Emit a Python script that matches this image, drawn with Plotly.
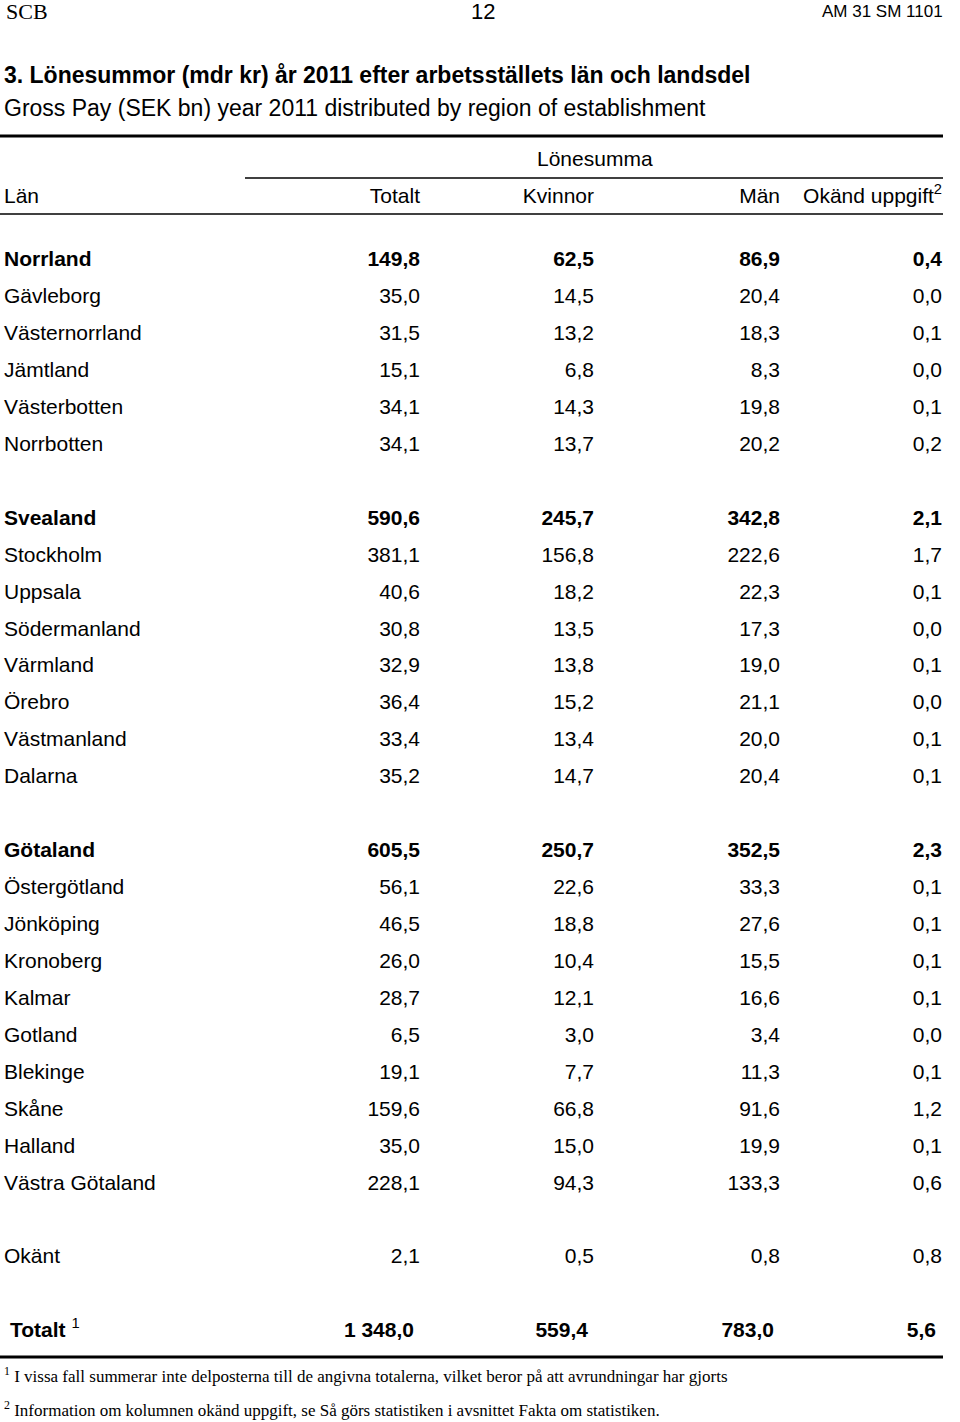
import plotly.graph_objects as go

# ---- data ----
regions = ["Norrland", "Gävleborg", "Västernorrland", "Jämtland", "Västerbotten", "Norrbotten",
           "", "Svealand", "Stockholm", "Uppsala", "Södermanland", "Värmland", "Örebro",
           "Västmanland", "Dalarna", "", "Götaland", "Östergötland", "Jönköping", "Kronoberg",
           "Kalmar", "Gotland", "Blekinge", "Skåne", "Halland", "Västra Götaland", "", "Okänt"]
totalt = ["149,8", "35,0", "31,5", "15,1", "34,1", "34,1", "",
          "590,6", "381,1", "40,6", "30,8", "32,9", "36,4", "33,4", "35,2", "",
          "605,5", "56,1", "46,5", "26,0", "28,7", "6,5", "19,1", "159,6", "35,0", "228,1", "", "2,1"]
kvinnor = ["62,5", "14,5", "13,2", "6,8", "14,3", "13,7", "",
           "245,7", "156,8", "18,2", "13,5", "13,8", "15,2", "13,4", "14,7", "",
           "250,7", "22,6", "18,8", "10,4", "12,1", "3,0", "7,7", "66,8", "15,0", "94,3", "", "0,5"]
man = ["86,9", "20,4", "18,3", "8,3", "19,8", "20,2", "",
       "342,8", "222,6", "22,3", "17,3", "19,0", "21,1", "20,0", "20,4", "",
       "352,5", "33,3", "27,6", "15,5", "16,6", "3,4", "11,3", "91,6", "19,9", "133,3", "", "0,8"]
okand = ["0,4", "0,0", "0,1", "0,0", "0,1", "0,2", "",
         "2,1", "1,7", "0,1", "0,0", "0,1", "0,0", "0,1", "0,1", "",
         "2,3", "0,1", "0,1", "0,1", "0,1", "0,0", "0,1", "1,2", "0,1", "0,6", "", "0,8"]
bold_rows = {"Norrland", "Svealand", "Götaland"}
total_label = "Totalt"
total_values = ["1 348,0", "559,4", "783,0", "5,6"]
col_headers = ["Totalt", "Kvinnor", "Män", "Okänd uppgift<sup>2</sup>"]

# ---- layout constants ----
W, H = 960, 1422
ROW0, STEP = 261, 36.93
col_right = [420, 594, 780, 942]
FONT = "Liberation Sans, Arial, sans-serif"
SERIF = "Liberation Serif, Times New Roman, serif"
FS = 21

def b(s, row_label):
    return f"<b>{s}</b>" if row_label in bold_rows else s

idx = [i for i, r in enumerate(regions) if r]
row_y = [ROW0 + i * STEP for i in idx]
total_y = ROW0 + (len(regions) + 1) * STEP
noskip = dict(hoverinfo="skip", showlegend=False, mode="text")

fig = go.Figure()
fig.add_trace(go.Scatter(
    x=[4] * len(idx), y=row_y, text=[b(regions[i], regions[i]) for i in idx],
    textposition="middle right", textfont=dict(family=FONT, size=FS, color="black"), **noskip))
for xr, col in zip(col_right, [totalt, kvinnor, man, okand]):
    fig.add_trace(go.Scatter(
        x=[xr] * len(idx), y=row_y, text=[b(col[i], regions[i]) for i in idx],
        textposition="middle left", textfont=dict(family=FONT, size=FS, color="black"), **noskip))
fig.add_trace(go.Scatter(
    x=[10], y=[total_y], text=[f"<b>{total_label}</b> <sup>1</sup>"],
    textposition="middle right", textfont=dict(family=FONT, size=FS, color="black"), **noskip))
fig.add_trace(go.Scatter(
    x=[c - 6 for c in col_right], y=[total_y] * 4, text=[f"<b>{v}</b>" for v in total_values],
    textposition="middle left", textfont=dict(family=FONT, size=FS, color="black"), **noskip))
fig.add_trace(go.Scatter(
    x=[4], y=[198], text=["Län"], textposition="middle right",
    textfont=dict(family=FONT, size=FS, color="black"), **noskip))
fig.add_trace(go.Scatter(
    x=col_right, y=[198] * 4, text=col_headers, textposition="middle left",
    textfont=dict(family=FONT, size=FS, color="black"), **noskip))

ann = []
def A(x, y, t, size, family=FONT, xanchor="left"):
    ann.append(dict(x=x, y=y, xref="x", yref="y", text=t, showarrow=False,
                    xanchor=xanchor, yanchor="middle", font=dict(family=family, size=size, color="black")))

A(4, 11, "SCB", 22, SERIF)
A(483, 11, "12", 22, FONT, "center")
A(945, 11, "AM 31 SM 1101", 17, FONT, "right")
A(2, 75, "<b>3. Lönesummor (mdr kr) år 2011 efter arbetsställets län och landsdel</b>", 23)
A(2, 108, "Gross Pay (SEK bn) year 2011 distributed by region of establishment", 23)
A(595, 158, "Lönesumma", FS, FONT, "center")
A(2, 1375, "<sup>1</sup> I vissa fall summerar inte delposterna till de angivna totalerna, vilket beror på att avrundningar har gjorts", 17, SERIF)
A(2, 1409, "<sup>2</sup> Information om kolumnen okänd uppgift, se Så görs statistiken i avsnittet Fakta om statistiken.", 17, SERIF)

shapes = [
    dict(type="line", xref="x", yref="y", x0=0, x1=943, y0=136, y1=136, line=dict(color="black", width=3)),
    dict(type="line", xref="x", yref="y", x0=245, x1=943, y0=178, y1=178, line=dict(color="black", width=1.3)),
    dict(type="line", xref="x", yref="y", x0=0, x1=943, y0=214, y1=214, line=dict(color="black", width=1.5)),
    dict(type="line", xref="x", yref="y", x0=0, x1=943, y0=1357, y1=1357, line=dict(color="black", width=3)),
]

fig.update_layout(
    width=W, height=H, margin=dict(l=0, r=0, t=0, b=0),
    paper_bgcolor="white", plot_bgcolor="white",
    xaxis=dict(range=[0, W], visible=False, fixedrange=True),
    yaxis=dict(range=[H, 0], visible=False, fixedrange=True),
    annotations=ann, shapes=shapes, showlegend=False,
)
fig.write_html("out.html", config={"displayModeBar": False},
               post_script="document.body.style.margin='0';document.body.style.overflow='hidden';")
